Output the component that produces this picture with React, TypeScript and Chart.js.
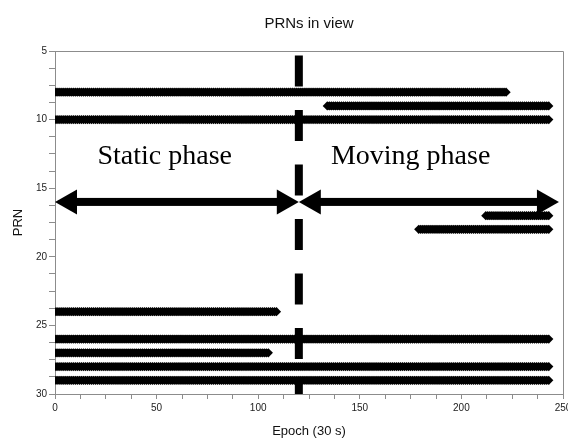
import React, { useEffect, useRef } from "react";
import { Chart, registerables } from "chart.js";

Chart.register(...registerables);

// Satellites tracked and the epoch span over which each one was in view
const prnRows = [8, 9, 10, 17, 18, 24, 26, 27, 28, 29];
const epochStart = [0, 134, 0, 212, 179, 0, 0, 0, 0, 0];
const epochEnd = [222, 243, 243, 243, 243, 109, 243, 105, 243, 243];

// Phase annotation: split epoch, arrows and labels
const phaseSplitEpoch = 120;
const arrowPrn = 16;
const arrowFrom = [0, 120];
const arrowTo = [120, 248];
const phaseLabels = ["Static phase", "Moving phase"];
const phaseLabelEpoch = [54, 175];
const phaseLabelPrn = 13.2;

// Axis ranges and tick layout
const xRange = [0, 250];
const yRange = [5, 30];
const xMinorStep = 12.5;
const xLabelStep = 50;
const yMinorStep = 1.25;
const yLabelStep = 5;

const AXIS_GRAY = "#8c8c8c";
const SANS = '"Liberation Sans", Arial, Helvetica, sans-serif';

function visibilityPoints(i: number) {
  const pts: { x: number; y: number }[] = [];
  for (let e = epochStart[i]; e <= epochEnd[i]; e++) {
    pts.push({ x: e, y: prnRows[i] });
  }
  return pts;
}

const phasePlugin = {
  id: "phaseAnnotations",
  afterDatasetsDraw(chart: any) {
    const { ctx, chartArea } = chart;
    const xs = chart.scales.x;
    const ys = chart.scales.y;
    ctx.save();

    // top and right edges of the plot frame
    ctx.strokeStyle = AXIS_GRAY;
    ctx.lineWidth = 1;
    ctx.beginPath();
    ctx.moveTo(chartArea.left, Math.round(chartArea.top) + 0.5);
    ctx.lineTo(Math.round(chartArea.right) + 0.5, Math.round(chartArea.top) + 0.5);
    ctx.lineTo(Math.round(chartArea.right) + 0.5, chartArea.bottom);
    ctx.stroke();

    // double-headed arrows for the two phases
    const yp = ys.getPixelForValue(arrowPrn);
    const headLen = 22;
    const headHalf = 12.5;
    const shaft = 8;
    ctx.fillStyle = "#000";
    for (let i = 0; i < arrowFrom.length; i++) {
      const x1 = xs.getPixelForValue(arrowFrom[i]);
      const x2 = xs.getPixelForValue(arrowTo[i]);
      ctx.fillRect(x1 + headLen - 1, yp - shaft / 2, x2 - x1 - 2 * headLen + 2, shaft);
      ctx.beginPath();
      ctx.moveTo(x1, yp);
      ctx.lineTo(x1 + headLen, yp - headHalf);
      ctx.lineTo(x1 + headLen, yp + headHalf);
      ctx.closePath();
      ctx.fill();
      ctx.beginPath();
      ctx.moveTo(x2, yp);
      ctx.lineTo(x2 - headLen, yp - headHalf);
      ctx.lineTo(x2 - headLen, yp + headHalf);
      ctx.closePath();
      ctx.fill();
    }

    // phase names
    ctx.font = '28px "Liberation Serif", "Times New Roman", serif';
    ctx.textAlign = "center";
    ctx.textBaseline = "alphabetic";
    const ty = ys.getPixelForValue(phaseLabelPrn);
    phaseLabels.forEach((t, i) => {
      ctx.fillText(t, xs.getPixelForValue(phaseLabelEpoch[i]), ty);
    });
    ctx.restore();
  },
};

export default function App() {
  const canvasRef = useRef<HTMLCanvasElement | null>(null);

  useEffect(() => {
    if (!canvasRef.current) return;

    const rowSets = prnRows.map((prn, i) => ({
      label: "PRN " + prn,
      data: visibilityPoints(i),
      showLine: true,
      borderColor: "#000",
      borderWidth: 7,
      borderCapStyle: "butt",
      pointStyle: "rectRot",
      pointRadius: 4.6,
      pointBorderWidth: 0,
      pointBackgroundColor: "#000",
      pointHoverRadius: 4.6,
      clip: 0,
    }));

    const splitSet = {
      label: "split",
      data: [
        { x: phaseSplitEpoch, y: yRange[0] },
        { x: phaseSplitEpoch, y: yRange[1] },
      ],
      showLine: true,
      borderColor: "#000",
      borderWidth: 8,
      borderDash: [31, 23.5],
      borderDashOffset: 50,
      borderCapStyle: "butt",
      pointRadius: 0,
      pointHoverRadius: 0,
      clip: 0,
    };

    const chart = new Chart(canvasRef.current, {
      type: "scatter",
      data: { datasets: [...rowSets, splitSet] as any },
      options: {
        animation: false,
        responsive: false,
        devicePixelRatio: 1,
        events: [],
        layout: { padding: { left: 0, right: 5, top: 0, bottom: 0 } },
        plugins: {
          legend: { display: false },
          tooltip: { enabled: false },
          title: {
            display: true,
            fullSize: false,
            text: "PRNs in view",
            color: "#111",
            font: { family: SANS, size: 15, weight: "normal" },
            padding: { top: 15, bottom: 18 },
          },
        },
        scales: {
          x: {
            type: "linear",
            position: "bottom",
            min: xRange[0],
            max: xRange[1],
            afterFit: (s: any) => {
              s.height = 45;
              s.paddingLeft = 0;
              s.paddingRight = 0;
            },
            ticks: {
              stepSize: xMinorStep,
              autoSkip: false,
              maxRotation: 0,
              padding: 3,
              color: "#222",
              font: { family: SANS, size: 10 },
              callback: (v: any) => (Number(v) % xLabelStep === 0 ? String(v) : ""),
            },
            grid: {
              drawOnChartArea: false,
              drawTicks: true,
              tickLength: 5,
              color: AXIS_GRAY,
            },
            border: { display: true, color: AXIS_GRAY, width: 1 },
            title: {
              display: true,
              text: "Epoch (30 s)",
              color: "#111",
              font: { family: SANS, size: 13 },
              padding: { top: 0, bottom: 0 },
            },
          },
          y: {
            type: "linear",
            min: yRange[0],
            max: yRange[1],
            reverse: true,
            afterFit: (s: any) => {
              s.width = 55;
              s.paddingTop = 0;
              s.paddingBottom = 0;
            },
            ticks: {
              stepSize: yMinorStep,
              autoSkip: false,
              padding: 2,
              color: "#222",
              font: { family: SANS, size: 10 },
              callback: (v: any) => (Number(v) % yLabelStep === 0 ? String(v) : ""),
            },
            grid: {
              drawOnChartArea: false,
              drawTicks: true,
              tickLength: 6,
              color: AXIS_GRAY,
            },
            border: { display: true, color: AXIS_GRAY, width: 1 },
            title: {
              display: true,
              text: "PRN",
              color: "#111",
              font: { family: SANS, size: 13 },
              padding: { top: 11, bottom: 0 },
            },
          },
        },
      } as any,
      plugins: [phasePlugin],
    });

    return () => chart.destroy();
  }, []);

  return (
    <div style={{ position: "absolute", left: 0, top: 0, width: 568, height: 439, background: "#fff" }}>
      <canvas ref={canvasRef} width={568} height={439} style={{ display: "block" }} />
    </div>
  );
}
